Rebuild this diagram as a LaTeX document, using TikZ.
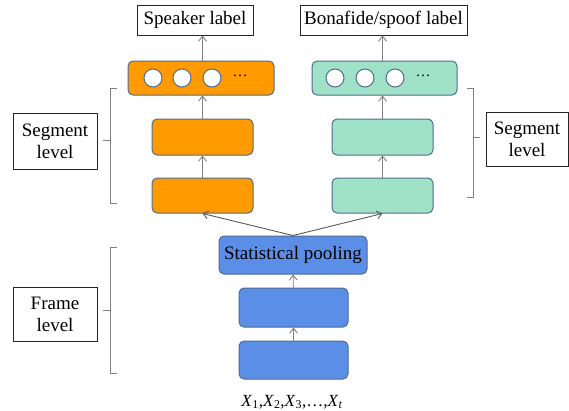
\documentclass[tikz,border=0pt]{standalone}
\usepackage{fontspec}
\setmainfont{Liberation Serif}
\usetikzlibrary{positioning, arrows.meta}

\definecolor{segorange}{HTML}{FF9A00}
\definecolor{seggreen}{HTML}{A0E2C8}
\definecolor{frameblue}{HTML}{5B8EE6}
\definecolor{boxedge}{HTML}{4F6D8F}

\begin{document}
\begin{tikzpicture}[x=1pt, y=-1pt,
    font=\fontsize{19}{22}\selectfont,
    layer/.style={draw=boxedge, line width=1pt, rounded corners=5pt, inner sep=0pt},
    tagbox/.style={draw=black!85, line width=1pt, fill=white, inner sep=0pt, align=center},
    ring/.style={circle, draw=boxedge, fill=white, line width=1pt, minimum size=18pt, inner sep=0pt},
    uparrow/.style={draw=gray, line width=0.9pt, -{Straight Barb[length=5pt, width=8pt]}},
    fanarrow/.style={draw=black!65, line width=0.9pt, -{Straight Barb[length=5pt, width=8pt]}},
    bracket/.style={draw=gray, line width=0.9pt}]
                % Keep the page the size of the reference
                \useasboundingbox (0,0) rectangle (569,410);

                % Output labels
                \node[tagbox, minimum width=116pt, minimum height=30pt] (spk) at (195,20) {Speaker label};
                \node[tagbox, minimum width=167pt, minimum height=30pt] (bsl) at (383.5,20) {Bonafide/spoof label};

                % Speaker branch (segment level)
                \node[layer, fill=segorange, minimum width=146pt, minimum height=34pt] (otop) at (201,78) {};
                \node[layer, fill=segorange, minimum width=101pt, minimum height=36pt] (omid) at (202.5,137) {};
                \node[layer, fill=segorange, minimum width=101pt, minimum height=35pt] (obot) at (202.5,195.5) {};

                % Spoof branch (segment level)
                \node[layer, fill=seggreen, minimum width=145pt, minimum height=34pt] (gtop) at (384.5,78) {};
                \node[layer, fill=seggreen, minimum width=101pt, minimum height=36pt] (gmid) at (382.5,137) {};
                \node[layer, fill=seggreen, minimum width=101pt, minimum height=35pt] (gbot) at (382.5,195.5) {};

                % Units inside the top layers
                \foreach \i/\x in {1/153, 2/182, 3/212}
                    \node[ring] (oc\i) at (\x,78) {};
                \foreach \i/\x in {1/335, 2/365, 3/395}
                    \node[ring] (gc\i) at (\x,78) {};
                \node[font=\fontsize{15}{18}\selectfont] (odots) at (240,76) {\dots};
                \node[font=\fontsize{15}{18}\selectfont] (gdots) at (423,76) {\dots};

                % Frame level
                \node[layer, fill=frameblue, minimum width=148pt, minimum height=38pt] (pool) at (293,255) {Statistical pooling};
                \node[layer, fill=frameblue, minimum width=109pt, minimum height=39pt] (bmid) at (293.5,307.5) {};
                \node[layer, fill=frameblue, minimum width=109pt, minimum height=38pt] (bbot) at (293.5,360) {};

                % Input frames
                \node (xin) at (292,402) {\fontsize{17}{20}\selectfont\textit{X}\textsubscript{1},\textit{X}\textsubscript{2},\textit{X}\textsubscript{3},\ldots,\textit{X}\textsubscript{\textit{t}}};

                % Side labels
                \node[tagbox, minimum width=84pt, minimum height=56pt] (segl) at (55,141) {Segment\\level};
                \node[tagbox, minimum width=82pt, minimum height=54pt] (segr) at (527,139) {Segment\\level};
                \node[tagbox, minimum width=84pt, minimum height=54pt] (frml) at (55,314) {Frame\\level};

                % Arrows
                \draw[uparrow] (bbot) -- (bmid);
                \draw[uparrow] (bmid) -- (pool);
                \draw[fanarrow] (pool.north) -- (obot.south);
                \draw[fanarrow] (pool.north) -- (gbot.south);
                \draw[uparrow] (obot) -- (omid);
                \draw[uparrow] (omid.north) -- (omid.north |- otop.south);
                \draw[uparrow] (otop.north -| omid.north) -- (omid.north |- spk.south);
                \draw[uparrow] (gbot) -- (gmid);
                \draw[uparrow] (gmid.north) -- (gmid.north |- gtop.south);
                \draw[uparrow] (gtop.north -| gmid.north) -- (gmid.north |- bsl.south);

                % Brackets
                \draw[bracket] (117,88) -- (110,88) -- (110,203) -- (117,203);
                \draw[bracket] (110,140) -- (103,140);
                \draw[bracket] (467,88) -- (473,88) -- (473,197) -- (467,197);
                \draw[bracket] (473,137) -- (480,137);
                \draw[bracket] (117,247) -- (110,247) -- (110,373) -- (117,373);
                \draw[bracket] (110,310) -- (103,310);

            \end{tikzpicture}
\end{document}
